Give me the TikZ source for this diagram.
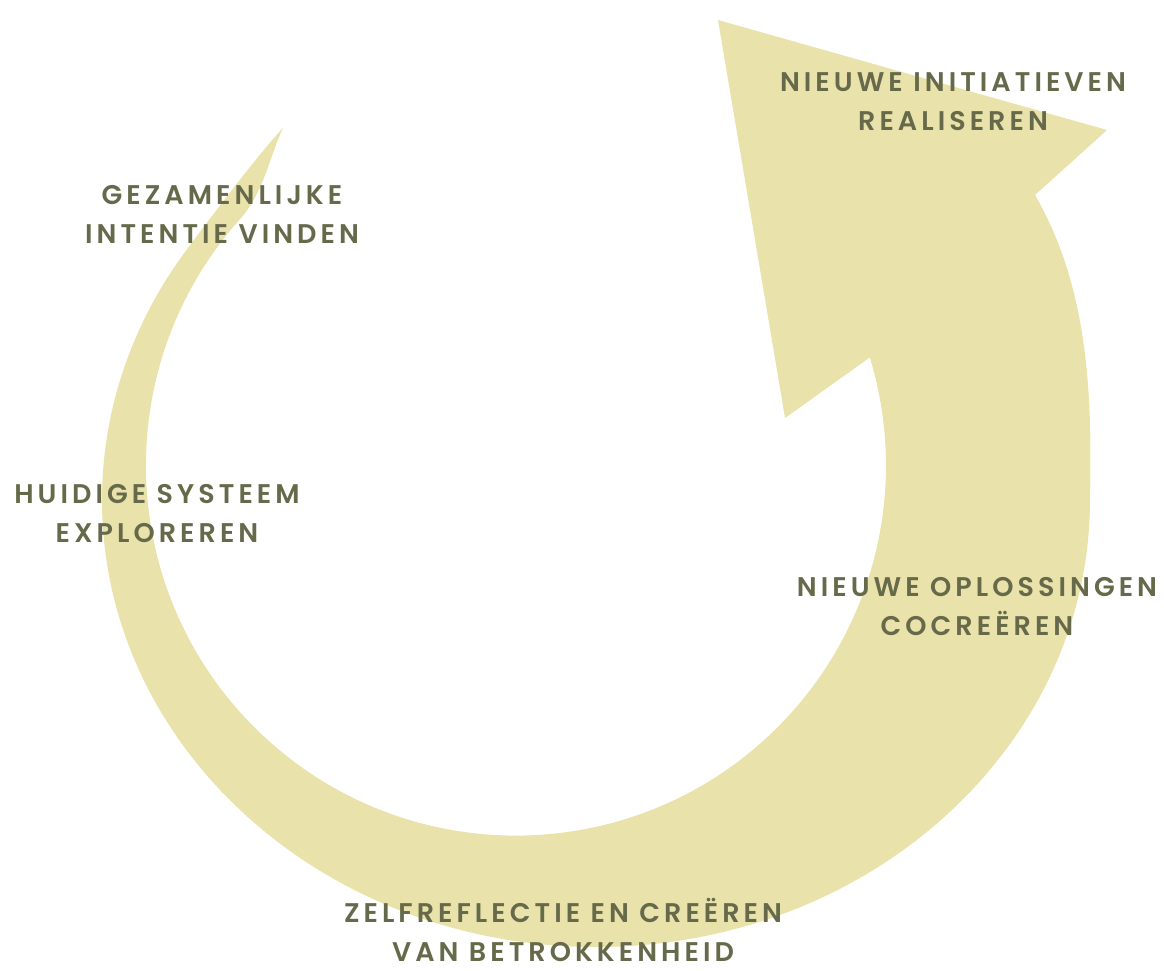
\documentclass[tikz,border=0pt]{standalone}
\usepackage{fontspec}
\setmainfont{Poppins}[BoldFont={Poppins SemiBold}]
\definecolor{beige}{RGB}{234,226,171}
\definecolor{olive}{RGB}{102,106,74}
\begin{document}
\begin{tikzpicture}[x=1pt,y=-1pt,
  lbl/.style={text=olive, font=\fontsize{27}{39}\selectfont\bfseries\addfontfeature{LetterSpace=15}, align=center, inner sep=0pt, anchor=base}]
\useasboundingbox (0,0) rectangle (1164,971);
% curved arrow
\fill[beige] (1035,195) .. controls (1090,290) and (1092,400) .. (1090,500)
  arc[start angle=0, end angle=214, x radius=494, y radius=447]
  .. controls (216,210) and (262,150) .. (283,128)
  .. controls (270,155) and (264,192) .. (241,218)
  arc[start angle=222, end angle=-17, radius=370]
  -- (785,418) -- (718,20) -- (1107,130) -- cycle;
\node[lbl] (realiseren) at (953,131) {NIEUWE INITIATIEVEN\\REALISEREN};
\node[lbl] (intentie) at (222,243) {GEZAMENLIJKE\\INTENTIE VINDEN};
\node[lbl] (systeem) at (157,542) {HUIDIGE SYSTEEM\\EXPLOREREN};
\node[lbl] (oplossingen) at (977,635) {NIEUWE OPLOSSINGEN\\COCREËREN};
\node[lbl] (zelfreflectie) at (563,961) {ZELFREFLECTIE EN CREËREN\\VAN BETROKKENHEID};
\end{tikzpicture}
\end{document}
